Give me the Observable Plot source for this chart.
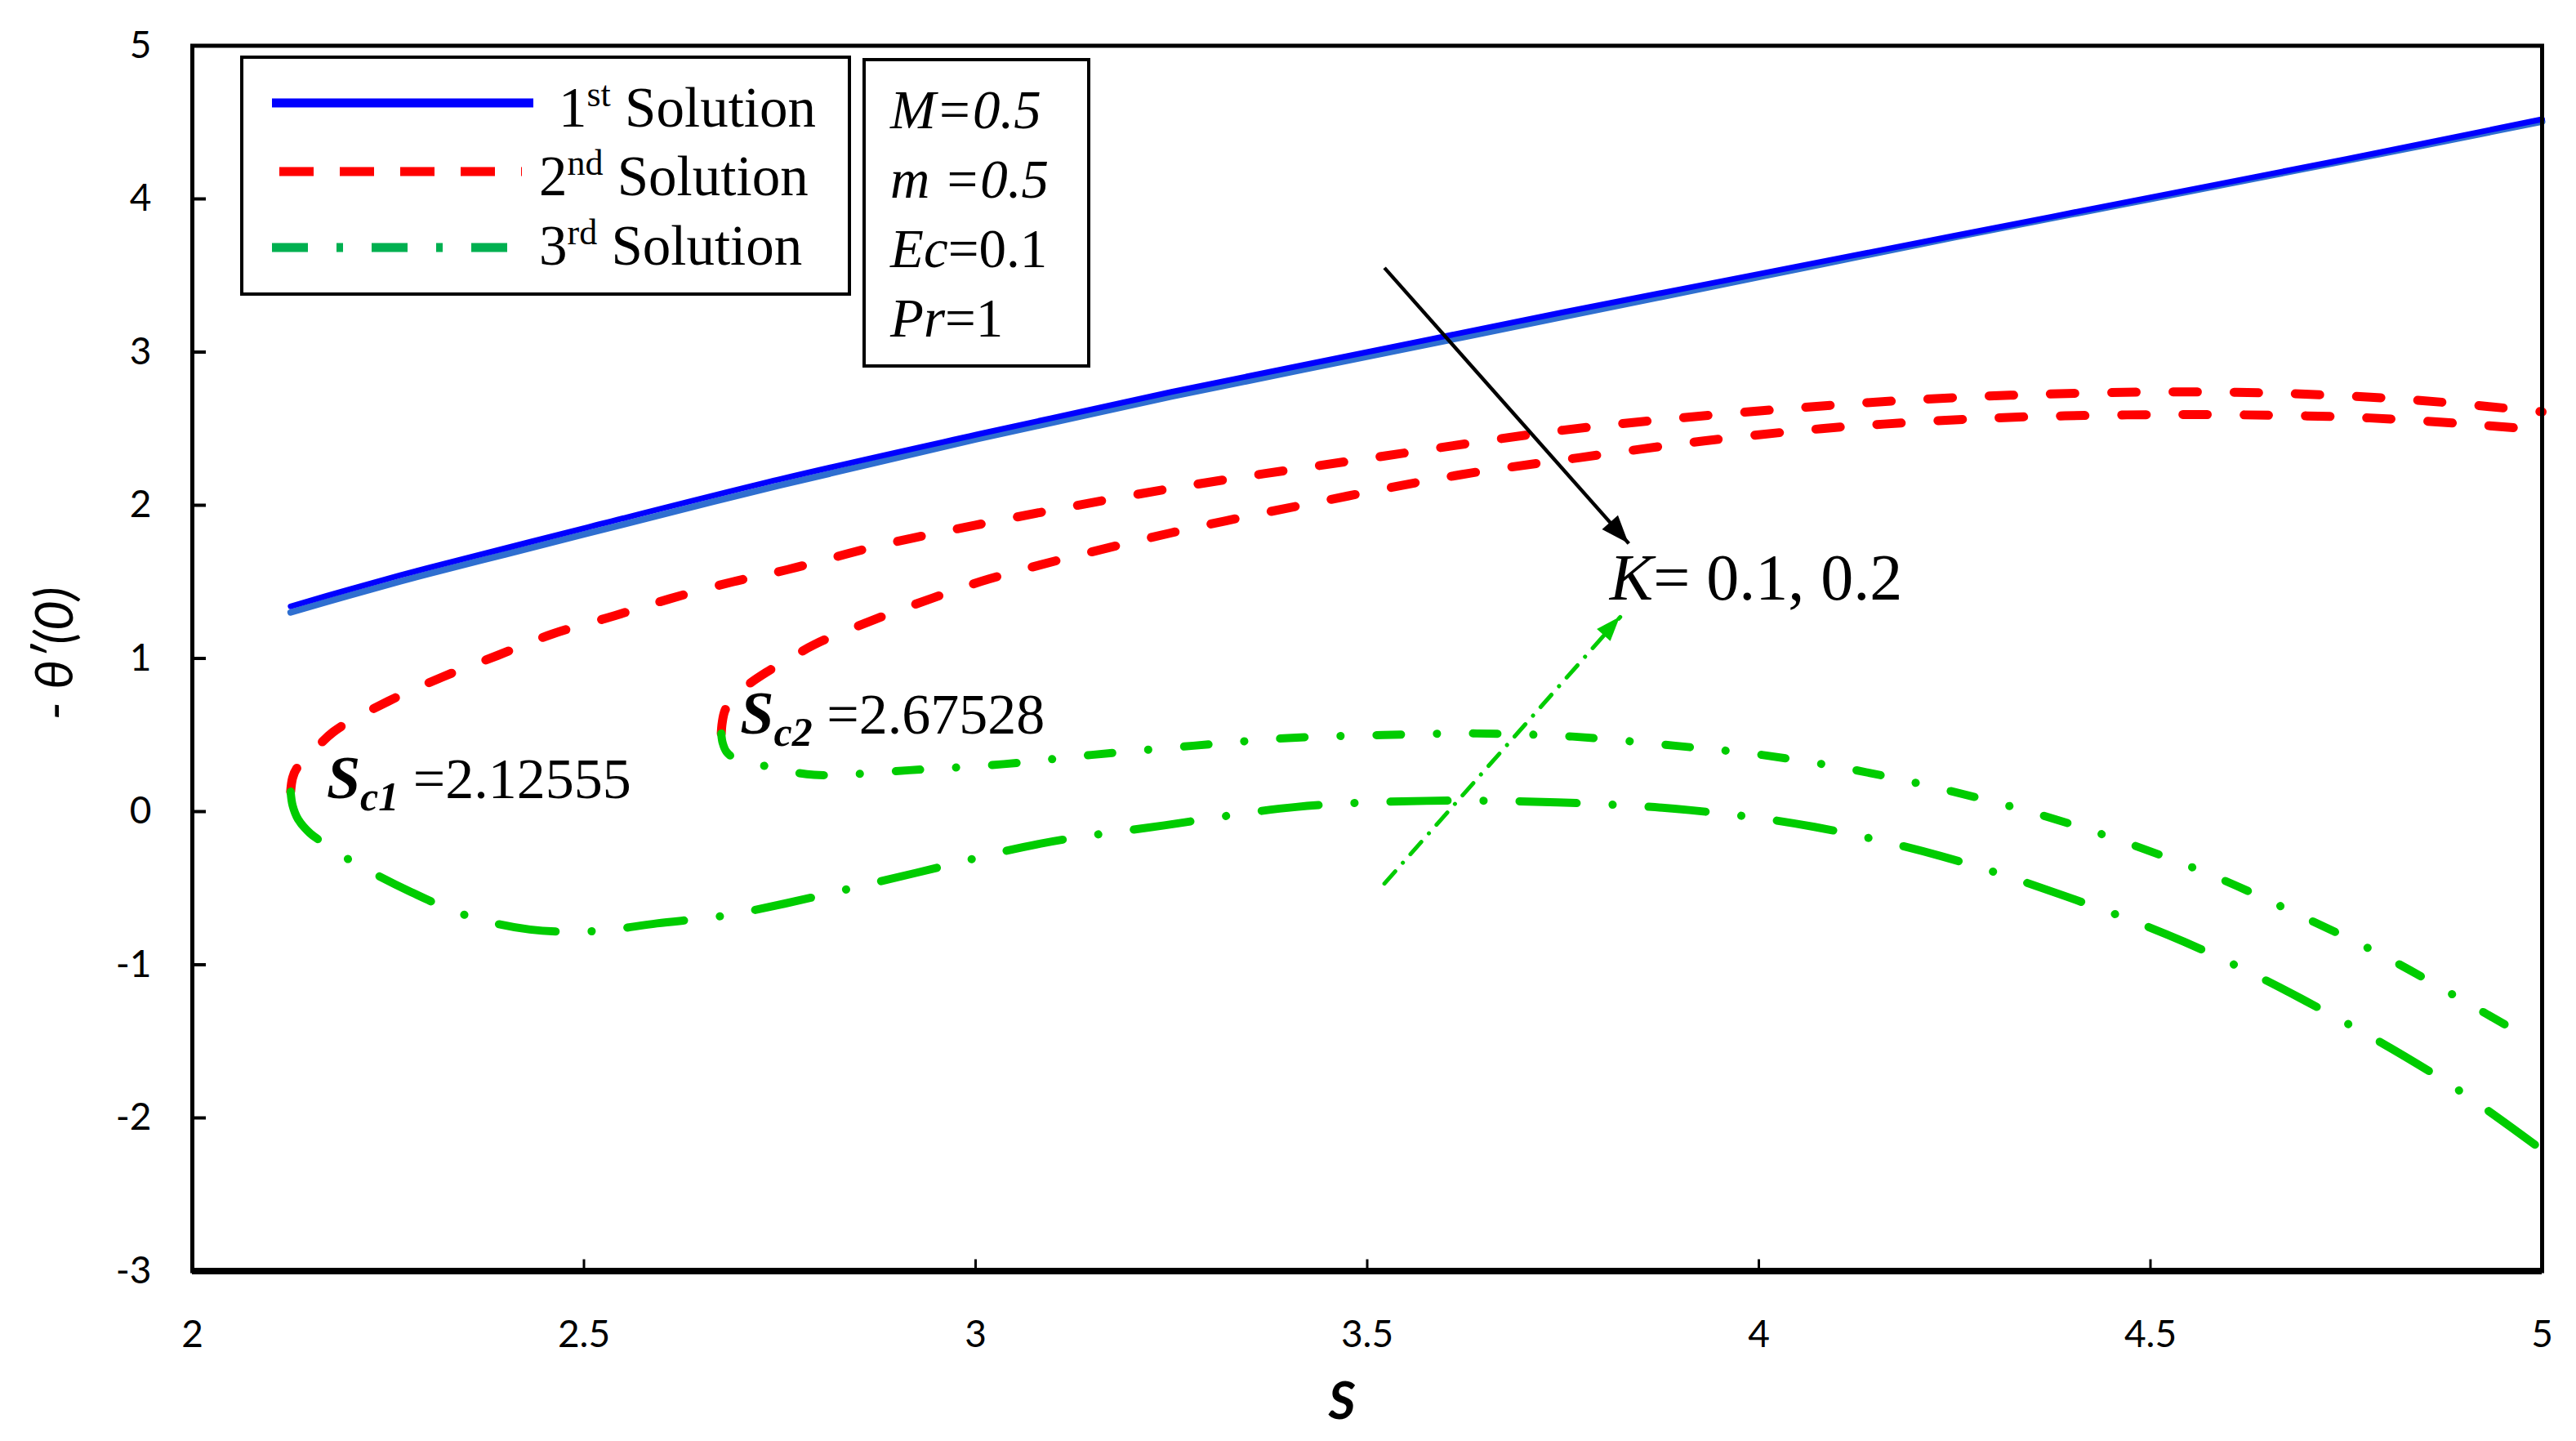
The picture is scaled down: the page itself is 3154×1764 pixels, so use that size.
<!DOCTYPE html>
<html><head><meta charset="utf-8">
<script src="https://cdn.jsdelivr.net/npm/d3@7"></script>
<script src="https://cdn.jsdelivr.net/npm/@observablehq/plot@0.6"></script>
<style>
html,body{margin:0;padding:0;background:#fff;}
#chart{width:3154px;height:1764px;}
</style></head><body><div id="chart"></div>
<script>
// ---------- data ----------
const xTicks = [2, 2.5, 3, 3.5, 4, 4.5, 5];
const yTicks = [-3, -2, -1, 0, 1, 2, 3, 4, 5];

// 1st solution (K = 0.1 and K = 0.2)
const S_first = [2.1255, 2.2, 2.3, 2.4, 2.5, 2.75, 3.0, 3.25, 3.5, 3.75, 4.0, 4.25, 4.5, 4.75, 5.0];
const T_first_K01 = [1.34, 1.45, 1.59, 1.72, 1.85, 2.17, 2.46, 2.74, 3.0, 3.26, 3.51, 3.76, 4.01, 4.26, 4.52];
const T_first_K02 = [1.30, 1.41, 1.55, 1.68, 1.81, 2.13, 2.43, 2.71, 2.97, 3.23, 3.49, 3.75, 4.00, 4.25, 4.505];

// 2nd solution
const S_second_K01 = [2.1255, 2.128, 2.133, 2.145, 2.18, 2.25, 2.32, 2.39, 2.46, 2.54, 2.61, 2.69, 2.76, 2.88, 3.0, 3.25, 3.52, 3.75, 3.9, 4.06, 4.17, 4.33, 4.52, 4.67, 4.83, 5.0];
const T_second_K01 = [0.13, 0.22, 0.28, 0.34, 0.52, 0.72, 0.88, 1.02, 1.16, 1.28, 1.39, 1.50, 1.58, 1.74, 1.87, 2.11, 2.32, 2.49, 2.57, 2.64, 2.68, 2.72, 2.74, 2.73, 2.69, 2.61];
const S_second_K02 = [2.6753, 2.6765, 2.68, 2.69, 2.71, 2.733, 2.76, 2.794, 2.869, 2.943, 3.018, 3.25, 3.475, 3.62, 3.77, 3.93, 4.08, 4.16, 4.3, 4.47, 4.62, 4.78, 4.93, 5.0];
const T_second_K02 = [0.51, 0.58, 0.66, 0.74, 0.83, 0.91, 0.99, 1.09, 1.25, 1.39, 1.52, 1.82, 2.06, 2.20, 2.31, 2.42, 2.50, 2.53, 2.57, 2.59, 2.59, 2.57, 2.52, 2.49];

// 3rd solution
const S_third_K01 = [2.1255, 2.128, 2.135, 2.15, 2.166, 2.202, 2.277, 2.351, 2.431, 2.515, 2.593, 2.678, 2.757, 2.924, 3.082, 3.241, 3.409, 3.576, 3.743, 3.911, 4.071, 4.232, 4.39, 4.543, 4.692, 4.873, 5.0];
const T_third_K01 = [0.13, 0.04, -0.05, -0.14, -0.20, -0.32, -0.52, -0.68, -0.77, -0.78, -0.73, -0.68, -0.60, -0.40, -0.21, -0.09, 0.03, 0.07, 0.06, 0.01, -0.10, -0.29, -0.55, -0.85, -1.22, -1.75, -2.21];
const S_third_K02 = [2.6753, 2.677, 2.682, 2.695, 2.729, 2.794, 2.915, 3.036, 3.148, 3.278, 3.399, 3.52, 3.64, 3.762, 3.893, 4.004, 4.124, 4.24, 4.359, 4.473, 4.585, 4.692, 4.804, 4.908, 4.966];
const T_third_K02 = [0.51, 0.45, 0.39, 0.34, 0.30, 0.24, 0.27, 0.31, 0.37, 0.43, 0.48, 0.50, 0.51, 0.49, 0.43, 0.37, 0.27, 0.14, -0.02, -0.21, -0.43, -0.68, -0.96, -1.26, -1.43];

// annotations (data units)
const arrowBlack = [{x1: 3.522, y1: 3.55, x2: 3.834, y2: 1.75}];
const arrowGreen = [{x1: 3.522, y1: -0.47, x2: 3.823, y2: 1.27}];
const labelK = {x: 3.81, y: 1.38};
const labelSc1 = {x: 2.172, y: 0.085, sub: "c1", value: "=2.12555"};
const labelSc2 = {x: 2.70, y: 0.507, sub: "c2", value: "=2.67528"};

// ---------- build rows ----------
const rows = (S, T) => S.map((s, i) => ({S: s, T: T[i]}));

const RED = "#ff0000", GREEN = "#00cc00", BLUE = "#0000ff", BLUE2 = "#2f6fd0";
const SERIF = "'Liberation Serif', 'Times New Roman', serif";

const plot = Plot.plot({
  width: 3154, height: 1764,
  marginLeft: 235, marginRight: 42, marginTop: 55.5, marginBottom: 208.5,
  x: {domain: [2, 5]},
  y: {domain: [-3, 5]},
  style: {fontFamily: "Lato, sans-serif", fontSize: "46px", color: "black", background: "white"},
  marks: [
    Plot.line(rows(S_first, T_first_K02), {x: "S", y: "T", stroke: BLUE2, strokeWidth: 8, curve: "catmull-rom"}),
    Plot.line(rows(S_first, T_first_K01), {x: "S", y: "T", stroke: BLUE, strokeWidth: 7, curve: "catmull-rom"}),
    Plot.line(rows(S_second_K01, T_second_K01), {x: "S", y: "T", stroke: RED, strokeWidth: 11, strokeDasharray: "30,45", strokeLinecap: "round", curve: "catmull-rom"}),
    Plot.line(rows(S_second_K02, T_second_K02), {x: "S", y: "T", stroke: RED, strokeWidth: 11, strokeDasharray: "30,45", strokeLinecap: "round", curve: "catmull-rom"}),
    Plot.line(rows(S_third_K01, T_third_K01), {x: "S", y: "T", stroke: GREEN, strokeWidth: 10, strokeDasharray: "70,44,0.1,44", strokeLinecap: "round", curve: "catmull-rom"}),
    Plot.line(rows(S_third_K02, T_third_K02), {x: "S", y: "T", stroke: GREEN, strokeWidth: 10, strokeDasharray: "30,44,0.1,44", strokeLinecap: "round", curve: "catmull-rom"}),
    Plot.link(arrowBlack, {x1: "x1", y1: "y1", x2: "x2", y2: "y2", stroke: "black", strokeWidth: 4.5}),
    Plot.link(arrowGreen, {x1: "x1", y1: "y1", x2: "x2", y2: "y2", stroke: GREEN, strokeWidth: 5, strokeDasharray: "20,14,0.1,14", strokeLinecap: "round"}),
    Plot.frame({stroke: "black", strokeWidth: 5}),
    Plot.ruleY([-3], {stroke: "black", strokeWidth: 8}),
    Plot.axisX({ticks: xTicks, tickSize: -14, tickPadding: 74, tickFormat: d => String(d), label: null, strokeWidth: 3, fontSize: 46}),
    Plot.axisY({ticks: yTicks, tickSize: -17, tickPadding: 67, tickFormat: d => String(d), label: null, strokeWidth: 4, fontSize: 46})
  ]
});
document.getElementById("chart").appendChild(plot);

// ---------- annotation layer ----------
const xs = plot.scale("x"), ys = plot.scale("y");
const X = v => xs.apply(v), Y = v => ys.apply(v);
const svg = d3.select(plot);
const g = svg.append("g");

function rich(x, y, parts, anchor = "start") {
  const t = g.append("text").attr("x", x).attr("y", y).attr("text-anchor", anchor).attr("fill", "black");
  parts.forEach(p => {
    const ts = t.append("tspan").text(p.t)
      .attr("font-family", p.f || SERIF)
      .attr("font-size", p.s)
      .attr("font-style", p.i ? "italic" : "normal")
      .attr("font-weight", p.b ? "bold" : "normal");
    if (p.dy) ts.attr("dy", p.dy);
  });
  return t;
}

function head(a, color, len, half) {
  const x1 = X(a.x1), y1 = Y(a.y1), x2 = X(a.x2), y2 = Y(a.y2);
  const d = Math.hypot(x2 - x1, y2 - y1), ux = (x2 - x1) / d, uy = (y2 - y1) / d;
  const bx = x2 - ux * len, by = y2 - uy * len;
  g.append("polygon")
    .attr("points", `${x2},${y2} ${bx - uy * half},${by + ux * half} ${bx + uy * half},${by - ux * half}`)
    .attr("fill", color);
}
head(arrowBlack[0], "black", 34, 13);
head(arrowGreen[0], GREEN, 30, 11);

// legend
g.append("rect").attr("x", 296).attr("y", 70).attr("width", 744).attr("height", 290)
  .attr("fill", "white").attr("stroke", "black").attr("stroke-width", 4);
g.append("line").attr("x1", 333).attr("x2", 653).attr("y1", 126).attr("y2", 126)
  .attr("stroke", BLUE).attr("stroke-width", 11);
g.append("line").attr("x1", 342).attr("x2", 639).attr("y1", 210).attr("y2", 210)
  .attr("stroke", RED).attr("stroke-width", 11).attr("stroke-dasharray", "42,32");
g.append("line").attr("x1", 333).attr("x2", 645).attr("y1", 303).attr("y2", 303)
  .attr("stroke", "#00b050").attr("stroke-width", 11).attr("stroke-dasharray", "44,35,8,35");
const legendRows = [["1", "st", 684, 155], ["2", "nd", 660, 239], ["3", "rd", 660, 324]];
legendRows.forEach(([n, sup, x, y]) => {
  rich(x, y, [{t: n, s: 69}, {t: sup, s: 44, dy: -25}, {t: " Solution", s: 69, dy: 25}]);
});

// parameter box
g.append("rect").attr("x", 1058).attr("y", 73).attr("width", 275).attr("height", 375)
  .attr("fill", "white").attr("stroke", "black").attr("stroke-width", 4);
rich(1090, 157, [{t: "M=0.5", s: 67, i: true}]);
rich(1090, 242, [{t: "m =0.5", s: 67, i: true}]);
rich(1090, 327, [{t: "Ec", s: 67, i: true}, {t: "=0.1", s: 67}]);
rich(1090, 412, [{t: "Pr", s: 67, i: true}, {t: "=1", s: 67}]);

// K label
rich(X(labelK.x), Y(labelK.y), [{t: "K", s: 80, i: true}, {t: "= 0.1, 0.2", s: 80}]);

// critical points
[labelSc1, labelSc2].forEach(L => {
  rich(X(L.x), Y(L.y), [
    {t: "S", s: 74, i: true, b: true},
    {t: L.sub, s: 50, i: true, b: true, dy: 15},
    {t: " " + L.value, s: 70, dy: -15}
  ]);
});

// axis titles
g.append("text").attr("transform", "translate(64,800) rotate(-90)")
  .attr("text-anchor", "middle").attr("dominant-baseline", "central")
  .attr("font-family", "Lato, sans-serif").attr("font-style", "italic").attr("font-size", 64)
  .text("- θ′(0)");
g.append("text").attr("x", 1643).attr("y", 1737).attr("text-anchor", "middle")
  .attr("font-family", "Lato, sans-serif").attr("font-style", "italic").attr("font-weight", "bold")
  .attr("font-size", 64).text("S");
</script>
</body></html>
